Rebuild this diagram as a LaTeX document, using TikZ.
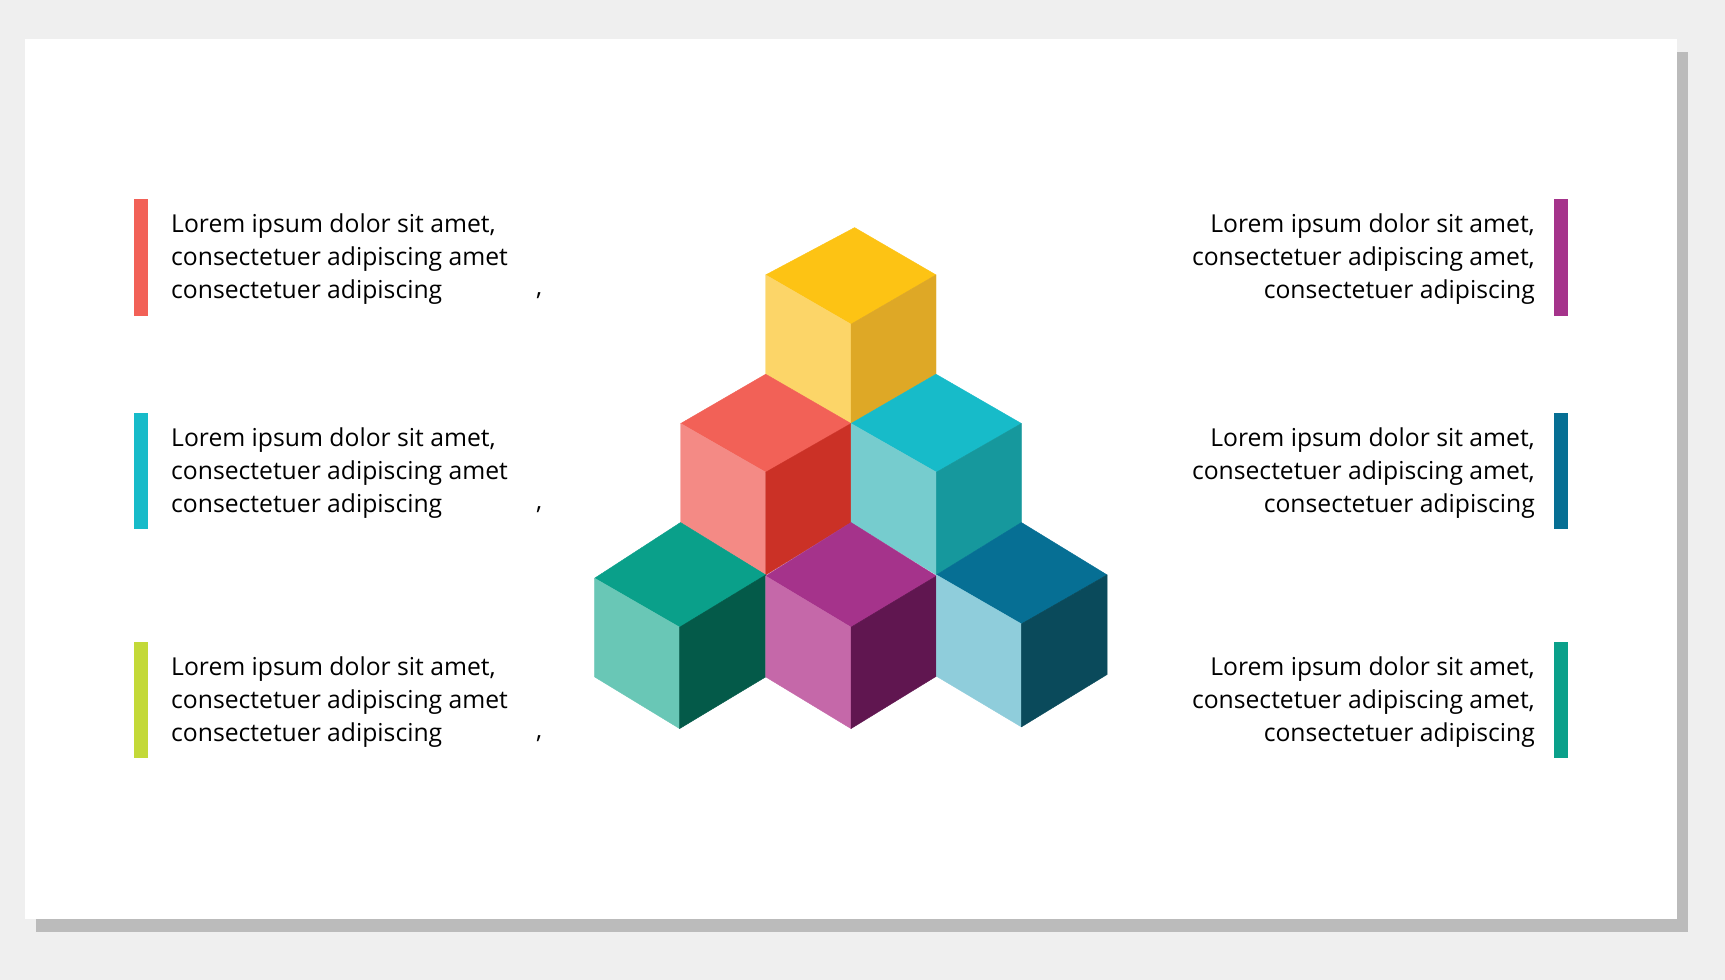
\documentclass[tikz,border=0pt]{standalone}
\usepackage{fontspec}
\setmainfont{Open Sans}
\definecolor{pagebg}{HTML}{EFEFEF}
\definecolor{shadowc}{HTML}{BBBBBB}
\definecolor{yT}{HTML}{FDC314}\definecolor{yL}{HTML}{FCD568}\definecolor{yR}{HTML}{DEA826}
\definecolor{rT}{HTML}{F26157}\definecolor{rL}{HTML}{F48A85}\definecolor{rR}{HTML}{CB3126}
\definecolor{tT}{HTML}{17BBC9}\definecolor{tL}{HTML}{76CCCE}\definecolor{tR}{HTML}{16989D}
\definecolor{gT}{HTML}{0AA08A}\definecolor{gL}{HTML}{69C7B6}\definecolor{gR}{HTML}{045A49}
\definecolor{pT}{HTML}{A5338B}\definecolor{pL}{HTML}{C568A9}\definecolor{pR}{HTML}{601650}
\definecolor{bT}{HTML}{066F94}\definecolor{bL}{HTML}{8FCDDB}\definecolor{bR}{HTML}{0A4A5B}
\definecolor{limec}{HTML}{C3D938}
\tikzset{
  lefttext/.style={anchor=base west,inner sep=0pt,align=left,text=black,font=\fontsize{24.7}{33}\selectfont},
  righttext/.style={anchor=base east,inner sep=0pt,align=right,text=black,font=\fontsize{24.7}{33}\selectfont},
  barbox/.style={inner sep=0pt,minimum width=14pt,minimum height=116.5pt,anchor=north west},
  face/.style={fill=#1,draw=#1,line width=.4pt,line join=round}
}
\begin{document}
\begin{tikzpicture}[x=1pt,y=-1pt]
\useasboundingbox (0,0) rectangle (1725,980);
\fill[pagebg] (0,0) rectangle (1725,980);
\fill[shadowc] (36,52) rectangle (1688,932);
\fill[white] (24.5,39) rectangle (1677,919);

% yellow
\path[face=yT] (854.6,227.6) -- (765.7,274.9) -- (851,324.2) -- (936,274.9) -- cycle;
\path[face=yL] (765.7,274.9) -- (851,324.2) -- (851,423.5) -- (765.7,374.2) -- cycle;
\path[face=yR] (936,274.9) -- (851,324.2) -- (851,423.5) -- (936,374.2) -- cycle;
% red
\path[face=rT] (765.7,374.2) -- (680.7,423.5) -- (765.7,472.2) -- (851,423.5) -- cycle;
\path[face=rL] (680.7,423.5) -- (765.7,472.2) -- (765.7,574.9) -- (680.7,522.5) -- cycle;
\path[face=rR] (851,423.5) -- (765.7,472.2) -- (765.7,574.9) -- (851,522.5) -- cycle;
% teal
\path[face=tT] (936,374.2) -- (851,423.5) -- (936.4,472.2) -- (1021.4,423.5) -- cycle;
\path[face=tL] (851,423.5) -- (936.4,472.2) -- (936.4,574.9) -- (851,522.5) -- cycle;
\path[face=tR] (1021.4,423.5) -- (936.4,472.2) -- (936.4,574.9) -- (1021.4,522.5) -- cycle;
% green
\path[face=gT] (680.5,522.5) -- (594.6,578.2) -- (679.6,627.2) -- (765.7,574.9) -- cycle;
\path[face=gL] (594.6,578.2) -- (679.6,627.2) -- (679.6,728.6) -- (594.6,676.9) -- cycle;
\path[face=gR] (765.7,574.9) -- (679.6,627.2) -- (679.6,728.6) -- (765.7,676.9) -- cycle;
% purple
\path[face=pT] (851,522.5) -- (765.7,576) -- (851,627.2) -- (936.4,576) -- cycle;
\path[face=pL] (765.7,576) -- (851,627.2) -- (851,728.6) -- (765.7,676.9) -- cycle;
\path[face=pR] (936.4,576) -- (851,627.2) -- (851,728.6) -- (936.4,676.2) -- cycle;
% blue
\path[face=bT] (1021.4,522.5) -- (936.4,574.9) -- (1021.4,623.9) -- (1107.1,574.9) -- cycle;
\path[face=bL] (936.4,574.9) -- (1021.4,623.9) -- (1021.4,726.9) -- (936.4,676.2) -- cycle;
\path[face=bR] (1107.1,574.9) -- (1021.4,623.9) -- (1021.4,726.9) -- (1107.1,674.5) -- cycle;

% bars
\node[barbox,fill=rT] (barL1) at (133.5,199) {};
\node[barbox,fill=tT] (barL2) at (133.5,412.5) {};
\node[barbox,fill=limec] (barL3) at (133.5,641.5) {};
\node[barbox,fill=pT] (barR1) at (1554,199) {};
\node[barbox,fill=bT] (barR2) at (1554,412.5) {};
\node[barbox,fill=gT] (barR3) at (1554,641.5) {};

% left text
\node[lefttext] (tL1) at (171,298) {Lorem ipsum dolor sit amet,\\consectetuer adipiscing amet\\consectetuer adipiscing};
\node[lefttext] (tL2) at (171,512) {Lorem ipsum dolor sit amet,\\consectetuer adipiscing amet\\consectetuer adipiscing};
\node[lefttext] (tL3) at (171,741) {Lorem ipsum dolor sit amet,\\consectetuer adipiscing amet\\consectetuer adipiscing};
\node[lefttext] (cL1) at (536,295) {,};
\node[lefttext] (cL2) at (536,509) {,};
\node[lefttext] (cL3) at (536,738) {,};
% right text
\node[righttext] (tR1) at (1535,298) {Lorem ipsum dolor sit amet,\\consectetuer adipiscing amet,\\consectetuer adipiscing};
\node[righttext] (tR2) at (1535,512) {Lorem ipsum dolor sit amet,\\consectetuer adipiscing amet,\\consectetuer adipiscing};
\node[righttext] (tR3) at (1535,741) {Lorem ipsum dolor sit amet,\\consectetuer adipiscing amet,\\consectetuer adipiscing};
\end{tikzpicture}
\end{document}
